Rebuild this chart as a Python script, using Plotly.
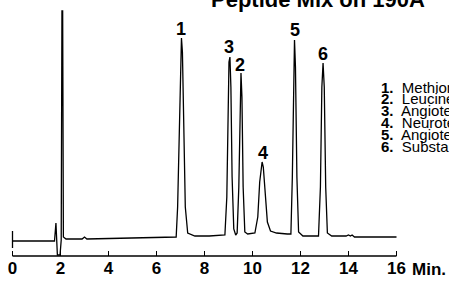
import plotly.graph_objects as go

# Chromatogram trace points (time in min, signal in arbitrary units)
time = [0.0, 1.75, 1.81, 1.87, 1.98, 2.03, 2.06, 2.09, 2.12, 2.23, 2.9, 3.0, 3.1, 4.5, 6.1, 6.82,
        6.88, 6.95, 7.0, 7.04, 7.08, 7.13, 7.2, 7.3, 7.6, 8.2, 8.85,
        8.93, 8.98, 9.02, 9.06, 9.1, 9.15, 9.22, 9.3, 9.36, 9.43, 9.48, 9.52, 9.56, 9.61, 9.68, 9.8,
        10.1, 10.22, 10.3, 10.36, 10.4, 10.45, 10.52, 10.62, 10.75, 11.0, 11.45, 11.6,
        11.66, 11.71, 11.75, 11.79, 11.85, 11.92, 12.1, 12.5, 12.75,
        12.83, 12.89, 12.94, 12.99, 13.05, 13.12, 13.3, 13.9, 14.0, 14.08, 14.15, 14.25, 15.0, 16.0]
signal = [-4, -4, 14, -18, -18, -3, 226, 226, 0, -2, -2, 0, -2, -1, 0, 0,
          30, 120, 185, 199, 185, 120, 30, 4, 1, 1, 2,
          40, 130, 175, 180, 150, 60, 8, 2, 4, 50, 140, 164, 140, 50, 5, 3,
          4, 20, 55, 72, 75, 70, 45, 15, 6, 4, 3, 3,
          60, 170, 197, 170, 60, 5, 1, 1, 1,
          50, 150, 174, 150, 50, 4, 1, 1, 2, 1, 2, 0, 0, 0]

# start marker of the trace
marker_time = [0.0, 0.0]
marker_signal = [6, -11]

# peak labels
peak_ids = ["1", "2", "3", "4", "5", "6"]
peak_times = [7.0, 9.48, 9.02, 10.42, 11.75, 12.92]
label_signal = [208, 172, 190, 84, 207, 183]

# axis ticks
tick_vals = [0, 2, 4, 6, 8, 10, 12, 14, 16]
tick_text = ["0", "2", "4", "6", "8", "10", "12", "14", "16"]

# compound list
compounds = ["Methionine Enkephalin", "Leucine Enkephalin", "Angiotensin II",
             "Neurotensin", "Angiotensin I", "Substance P"]

title_text = "Peptide Mix on 190A"

FONT = "Liberation Sans, Arial, Helvetica, sans-serif"

fig = go.Figure()
fig.add_trace(go.Scatter(x=time, y=signal, mode="lines",
                         line=dict(color="black", width=1.3), hoverinfo="skip"))
fig.add_trace(go.Scatter(x=marker_time, y=marker_signal, mode="lines",
                         line=dict(color="black", width=1.3), hoverinfo="skip"))

# axis baseline
fig.add_shape(type="line", x0=tick_vals[0], x1=tick_vals[-1], y0=-19, y1=-19,
              xref="x", yref="y", line=dict(color="black", width=1.3))

for pid, t, s in zip(peak_ids, peak_times, label_signal):
    fig.add_annotation(x=t, y=s, text="<b>%s</b>" % pid, showarrow=False,
                       xanchor="center", yanchor="middle",
                       font=dict(family=FONT, size=18, color="black"))

for i, c in enumerate(compounds):
    fig.add_annotation(x=15.27, y=150 - i * 11.8, text="<b>%d.</b>&nbsp; %s" % (i + 1, c),
                       showarrow=False, xanchor="left", yanchor="middle",
                       font=dict(family=FONT, size=15, color="black"))

fig.add_annotation(x=16.55, y=-32, text="<b>Min.</b>", showarrow=False,
                   xanchor="left", yanchor="middle",
                   font=dict(family=FONT, size=17, color="black"))

fig.add_annotation(x=8.19, y=223, text="<b>%s</b>" % title_text, showarrow=False,
                   xanchor="left", yanchor="bottom",
                   font=dict(family=FONT, size=22, color="black"))

fig.update_layout(
    width=449, height=281,
    margin=dict(l=0, r=0, t=0, b=0, autoexpand=False),
    paper_bgcolor="white", plot_bgcolor="white",
    showlegend=False,
    xaxis=dict(range=[-0.521, 18.1875], tickvals=tick_vals, ticktext=tick_text,
               ticks="inside", ticklen=5, tickwidth=1.3, tickcolor="black",
               showline=False, showgrid=False, zeroline=False,
               anchor="free", position=0.089, automargin=False,
               tickfont=dict(family=FONT, size=17, color="black", weight="bold"),
               ticklabelstandoff=0),
    yaxis=dict(range=[-44, 237], visible=False, showgrid=False, zeroline=False,
               automargin=False),
)

fig.write_html("out.html", config={"displayModeBar": False},
               post_script="document.body.style.margin='0';document.body.style.overflow='hidden';")
